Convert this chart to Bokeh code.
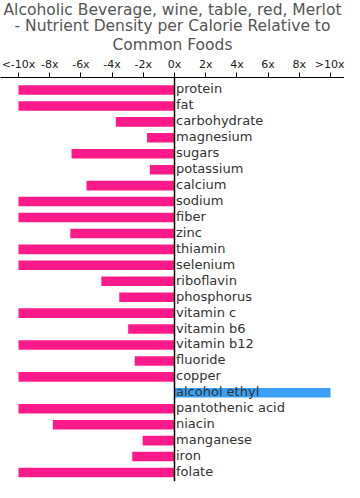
from bokeh.plotting import figure
from bokeh.models import ColumnDataSource, Range1d, LinearAxis, FixedTicker, Title, Span
from bokeh.embed import file_html
from bokeh.resources import INLINE
from bokeh.core.properties import value

title_lines = [
    "Alcoholic Beverage, wine, table, red, Merlot",
    "- Nutrient Density per Calorie Relative to",
    "Common Foods",
]
nutrients = ["protein", "fat", "carbohydrate", "magnesium", "sugars", "potassium",
             "calcium", "sodium", "fiber", "zinc", "thiamin", "selenium", "riboflavin",
             "phosphorus", "vitamin c", "vitamin b6", "vitamin b12", "fluoride", "copper",
             "alcohol ethyl", "pantothenic acid", "niacin", "manganese", "iron", "folate"]
density = [-10, -10, -3.76, -1.76, -6.6, -1.58, -5.64, -10, -10, -6.68, -10, -10, -4.69,
           -3.54, -10, -2.97, -10, -2.55, -10, 10, -10, -7.8, -2.04, -2.71, -10]
tick_values = [-10, -8, -6, -4, -2, 0, 2, 4, 6, 8, 10]
tick_labels = ["<-10x", "-8x", "-6x", "-4x", "-2x", "0x", "2x", "4x", "6x", "8x", ">10x"]

NEG = "#ff1a8c"
POS = "#3aa0f5"
FONT = "DejaVu Sans"

src = ColumnDataSource(dict(
    nutrient=nutrients,
    row=list(range(len(nutrients))),
    density=density,
    color=[POS if d > 0 else NEG for d in density],
))

n = len(nutrients)
p = figure(width=344, height=482, output_backend="svg", toolbar_location=None,
           title=None, x_axis_location=None, y_axis_location=None,
           x_range=Range1d(-11.154, 10.897),
           y_range=Range1d(start=(n - 1) + 0.565, end=-0.784),
           min_border_left=0, min_border_right=0, min_border_top=77, min_border_bottom=1)
p.outline_line_color = None
p.xgrid.visible = False
p.ygrid.visible = False
p.background_fill_color = "white"
p.border_fill_color = "white"

axis = LinearAxis(ticker=FixedTicker(ticks=tick_values),
                  major_label_overrides={v: l for v, l in zip(tick_values, tick_labels)})
axis.major_tick_in = 0
axis.major_tick_out = 5
axis.minor_tick_in = 0
axis.minor_tick_out = 0
axis.major_label_standoff = 2
axis.major_label_text_font = FONT
axis.major_label_text_font_size = "11px"
axis.major_label_text_color = "#222222"
axis.axis_line_color = "black"
axis.major_tick_line_color = "black"
p.add_layout(axis, "above")

for i, line in enumerate(reversed(title_lines)):
    t = Title(text=line, align="center", text_font=FONT, text_font_size="15.5px",
              text_font_style="normal", text_color="#555555",
              standoff=(2 if i == 0 else -4), offset=0)
    p.add_layout(t, "above")

p.hbar(y="row", left=0, right="density", height=0.6, color="color",
       line_color=None, source=src)
p.text(x=0, y="row", text="nutrient", x_offset=1.5, y_offset=-1,
       text_baseline="middle", text_align="left", text_font=value(FONT),
       text_font_size="13px", text_color="#333333", source=src)
p.add_layout(Span(location=0, dimension="height", line_color="black", line_width=1.5))

open("out.html", "w").write(file_html(p, INLINE))
